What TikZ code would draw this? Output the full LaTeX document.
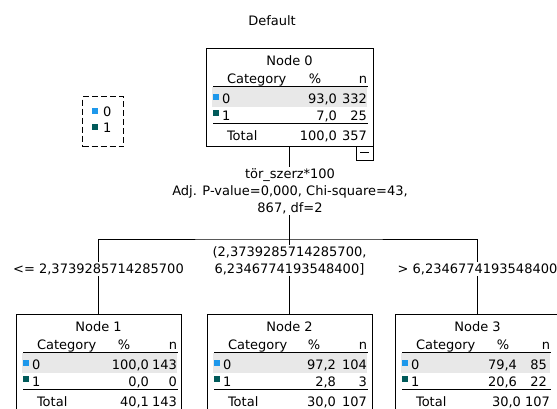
\documentclass[tikz,border=0pt]{standalone}
\usepackage{fontspec}
\setmainfont{DejaVu Sans}
\definecolor{catzero}{RGB}{30,152,235}
\definecolor{catone}{RGB}{0,90,90}
\definecolor{rowgray}{RGB}{232,232,232}
\tikzset{
  txt/.style={inner sep=0pt, outer sep=0pt, font=\fontsize{13}{17}\selectfont},
  statframe/.style={draw, line width=1pt, inner sep=0pt, outer sep=0pt},
  rule/.style={line width=1pt},
  link/.style={line width=1pt},
  lbl/.style={txt, fill=white, inner sep=1.5pt, align=center},
  legendbox/.style={draw, line width=1pt, dash pattern=on 6pt off 3pt, inner sep=0pt},
}
% column layout of the next table: top, width, % centre, % right, total % right, n right, total n right
\newcommand\setcols[7]{\def\bxtop{#1}\def\bxw{#2}\def\bxpc{#3}\def\bxpr{#4}\def\bxptr{#5}\def\bxnr{#6}\def\bxntr{#7}}
% one node table: name, left edge, title, %0, n0, %1, n1, total %, total n
\newcommand\statbox[9]{%
  \begin{scope}[shift={(#2,\bxtop)}]
    \fill[rowgray] (6,39) rectangle (\bxntr,59);
    \node[statframe, minimum width=\bxw pt, minimum height=98pt, anchor=north west] (#1) at (0,0) {};
    \node[txt, anchor=base] (#1-title) at (\bxw/2,17) {#3};
    \node[txt, anchor=base west] (#1-cat) at (21,35) {Category};
    \node[txt, anchor=base] (#1-pct) at (\bxpc,35) {\%};
    \node[txt, anchor=base east] (#1-n) at (\bxntr,35) {n};
    \draw[rule] (7,38) -- (\bxntr+1,38);
    \fill[catzero] (7,46) rectangle (13,52);
    \fill[catone] (7,62) rectangle (13,68);
    \node[txt, anchor=base west] (#1-c0) at (16,55) {0};
    \node[txt, anchor=base west] (#1-c1) at (16,72) {1};
    \node[txt, anchor=base east] (#1-p0) at (\bxpr,55) {#4};
    \node[txt, anchor=base east] (#1-n0) at (\bxnr,55) {#5};
    \node[txt, anchor=base east] (#1-p1) at (\bxpr,72) {#6};
    \node[txt, anchor=base east] (#1-n1) at (\bxnr,72) {#7};
    \draw[rule] (7,75) -- (\bxntr+1,75);
    \node[txt, anchor=base west] (#1-tot) at (21,92) {Total};
    \node[txt, anchor=base east] (#1-pt) at (\bxptr,92) {#8};
    \node[txt, anchor=base east] (#1-nt) at (\bxntr,92) {#9};
  \end{scope}}

\begin{document}
\begin{tikzpicture}[x=1pt, y=-1pt]
  \useasboundingbox (0,0) rectangle (557,408);
  \fill[white] (0,0) rectangle (557,408);
  \clip (0,0) rectangle (557,408);

  \node[txt, anchor=base] (title) at (272,25) {Default};

  % legend
  \node[legendbox, minimum width=41pt, minimum height=50pt, anchor=north west] (legend) at (82,96) {};
  \fill[catzero] (92,108) rectangle (98,114);
  \fill[catone] (92,124) rectangle (98,130);
  \node[txt, anchor=base west] (leg0) at (103,116) {0};
  \node[txt, anchor=base west] (leg1) at (103,132) {1};

  % tables
  \setcols{48}{167}{109}{131}{131}{161}{161}
  \statbox{n0}{206}{Node 0}{93,0}{332}{7,0}{25}{100,0}{357}
  \setcols{314}{165}{108}{133}{133}{161}{161}
  \statbox{n1}{16}{Node 1}{100,0}{143}{0,0}{0}{40,1}{143}
  \setcols{314}{165}{107}{129}{129}{160}{160}
  \statbox{n2}{207}{Node 2}{97,2}{104}{2,8}{3}{30,0}{107}
  \setcols{314}{165}{108}{122}{126}{152}{155}
  \statbox{n3}{395}{Node 3}{79,4}{85}{20,6}{22}{30,0}{107}

  % collapse toggle under the root
  \node[statframe, minimum width=17pt, minimum height=14pt, anchor=north east] (toggle) at (n0.south east) {};
  \draw[rule] ([xshift=-4.5pt, yshift=1pt]toggle.center) -- ([xshift=4.5pt, yshift=1pt]toggle.center);

  % connectors
  \coordinate (bar) at (290,239);
  \draw[link] (n0.south) -- (n2.north);
  \draw[link] (n1.north) |- (bar) -| (n3.north);

  % split and branch labels
  \node[lbl] (split) at (290,191) {t\"or\_szerz*100\\Adj. P-value=0,000, Chi-square=43,\\867, df=2};
  \node[lbl, anchor=base] (b1) at (n1.north |- 0,273) {<= 2,3739285714285700};
  \node[lbl, anchor=base] (b2) at (n2.north |- 0,273) {(2,3739285714285700,\\6,2346774193548400]};
  \node[lbl, anchor=base] (b3) at (n3.north |- 0,273) {> 6,2346774193548400};
\end{tikzpicture}
\end{document}
